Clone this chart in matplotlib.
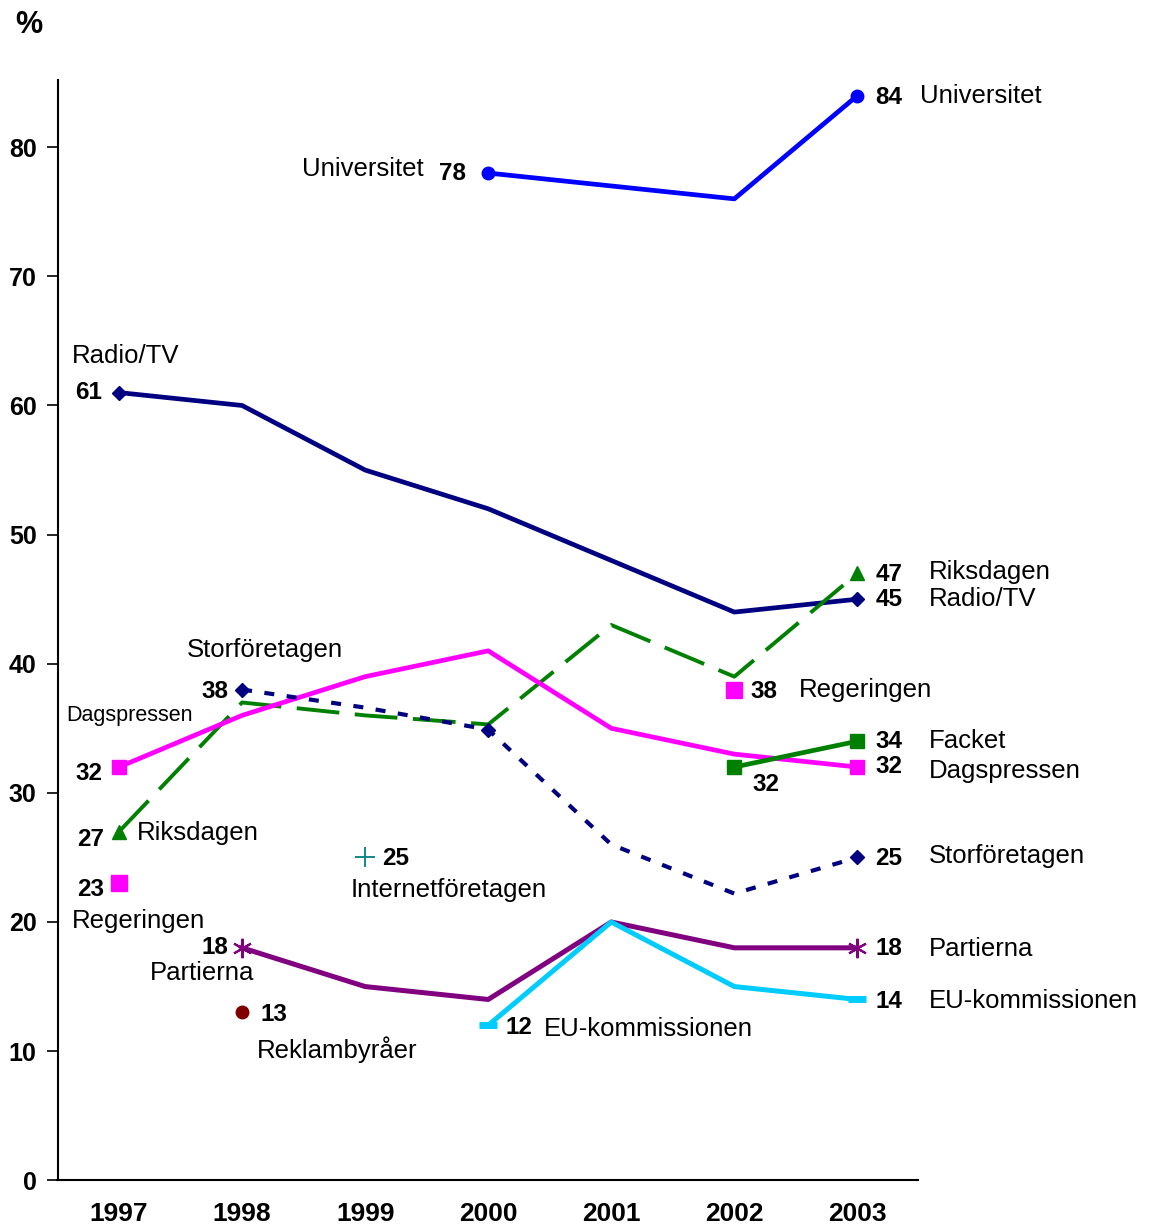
import matplotlib
matplotlib.use("Agg")
import matplotlib.pyplot as plt
from matplotlib import font_manager

names = {f.name for f in font_manager.fontManager.ttflist}
SANS = ["Liberation Sans", "DejaVu Sans"]
NARROW = ["Liberation Sans Narrow", "Liberation Sans", "DejaVu Sans"] if "Liberation Sans Narrow" in names else SANS
plt.rcParams["font.family"] = SANS

years = [1997, 1998, 1999, 2000, 2001, 2002, 2003]

# series values (None = no data)
universitet = [None, None, None, 78, 77, 76, 84]
radio_tv = [61, 60, 55, 52, 48, 44, 45]
riksdagen = [27, 37, 36, 35.3, 43, 39, 47]
dagspressen = [32, 36, 39, 41, 35, 33, 32]
storforetagen = [None, 38, 36.6, 34.9, 26, 22.2, 25]
facket = [None, None, None, None, None, 32, 34]
partierna = [None, 18, 15, 14, 20, 18, 18]
eu_kommissionen = [None, None, None, 12, 20, 15, 14]
regeringen_years = [1997, 2002]
regeringen = [23, 38]
internet_year, internet = 1999, 25
reklam_year, reklam = 1998, 13


def pts(vals):
    xs = [y for y, v in zip(years, vals) if v is not None]
    vs = [v for v in vals if v is not None]
    return xs, vs


fig = plt.figure(figsize=(11.5, 12.32), dpi=100)
ax = fig.add_axes([0.050, 0.042, 0.748, 0.893])

x, y = pts(universitet)
ax.plot(x, y, color="#0000FF", lw=3.4, marker="o", ms=9, markevery=[0, 3])
x, y = pts(radio_tv)
ax.plot(x, y, color="#000080", lw=3.4, marker="D", ms=7, markevery=[0, 6])
x, y = pts(riksdagen)
ax.plot(x, y, color="#008000", lw=2.8, dashes=(11, 4), marker="^", ms=10, markevery=[0, 6])
x, y = pts(dagspressen)
ax.plot(x, y, color="#FF00FF", lw=3.4, marker="s", ms=10, markevery=[0, 6])
x, y = pts(storforetagen)
ax.plot(x, y, color="#000080", lw=3, dashes=(2.4, 3.0), marker="D", ms=7, markevery=[0, 2, 5])
x, y = pts(facket)
ax.plot(x, y, color="#008000", lw=3.4, marker="s", ms=10)
x, y = pts(partierna)
ax.plot(x, y, color="#800080", lw=3.6, marker=(6, 2, 0), ms=14, mew=1.5, markevery=[0, 5])
x, y = pts(eu_kommissionen)
ax.plot(x, y, color="#00CCFF", lw=3.6, marker="_", ms=13, mew=5, markevery=[0, 3])
ax.plot(regeringen_years, regeringen, ls="none", color="#FF00FF", marker="s", ms=11)
ax.plot([internet_year], [internet], ls="none", color="#008080", marker="+", ms=15, mew=1.3)
ax.plot([reklam_year], [reklam], ls="none", color="#800000", marker="o", ms=9)


def num(xv, yv, dx, dy, ha="left"):
    ax.annotate(f"{yv:.0f}", (xv, yv), xytext=(dx, dy), textcoords="offset pixels",
                ha=ha, va="center", fontsize=17.5, fontweight="bold")


def name(xv, yv, txt, dx, dy, ha="left", fam=None, size=18.5):
    ax.annotate(txt, (xv, yv), xytext=(dx, dy), textcoords="offset pixels",
                ha=ha, va="center", fontsize=size, family=fam or SANS)


# Universitet
num(2000, 78, -22, 0, "right")
name(2000, 78, "Universitet", -65, 4, "right")
num(2003, 84, 18, -2)
name(2003, 84, "Universitet", 63, 0)
# Radio/TV
num(1997, 61, -17, 0, "right")
name(1997, 61, "Radio/TV", -47, 37)
num(2003, 45, 18, 0)
name(2003, 45, "Radio/TV", 71, 0)
# Riksdagen
num(1997, 27, -15, -8, "right")
name(1997, 27, "Riksdagen", 18, -1)
num(2003, 47, 18, -1)
name(2003, 47, "Riksdagen", 71, 1)
# Dagspressen
num(1997, 32, -17, -6, "right")
name(1997, 32, "Dagspressen", -53, 52, fam=NARROW, size=15.5)
num(2003, 32, 18, 1)
name(2003, 32, "Dagspressen", 71, -4)
# Storföretagen
num(1998, 38, -14, -2, "right")
name(1998, 38, "Storföretagen", 23, 40, "center")
num(2003, 25, 18, -1)
name(2003, 25, "Storföretagen", 71, 1)
# Regeringen
num(1997, 23, -15, -6, "right")
name(1997, 23, "Regeringen", -47, -38)
num(2002, 38, 16, -2)
name(2002, 38, "Regeringen", 65, 0)
# Facket
num(2002, 32, 18, -17)
num(2003, 34, 18, 0)
name(2003, 34, "Facket", 71, 0)
# Partierna
num(1998, 18, -14, 0, "right")
name(1998, 18, "Partierna", -92, -25)
num(2003, 18, 18, -1)
name(2003, 18, "Partierna", 71, -1)
# EU-kommissionen
num(2000, 12, 17, -2)
name(2000, 12, "EU-kommissionen", 56, -4)
num(2003, 14, 18, -2)
name(2003, 14, "EU-kommissionen", 71, -2)
# Internetföretagen
num(1999, 25, 17, -1)
name(1999, 25, "Internetföretagen", -15, -33)
# Reklambyråer
num(1998, 13, 18, -2)
name(1998, 13, "Reklambyråer", 15, -37)

ax.set_xlim(1996.5, 2003.49)
ax.set_ylim(0, 85.2)
ax.set_yticks(range(0, 81, 10))
ax.set_xticks(years)
ax.tick_params(axis="y", direction="out", length=8, width=1.2, labelsize=18, pad=7)
ax.tick_params(axis="x", length=0, pad=16)
for lab in ax.get_yticklabels():
    lab.set_fontweight("bold")
for lab in ax.get_xticklabels():
    lab.set_fontweight("bold")
    lab.set_family(NARROW)
    lab.set_fontsize(19)
for s in ["top", "right"]:
    ax.spines[s].set_visible(False)
for s in ["left", "bottom"]:
    ax.spines[s].set_linewidth(1.5)

fig.text(0.025, 0.980, "%", fontsize=22, fontweight="bold", va="center", ha="center")

fig.savefig("out.png", dpi=100)
